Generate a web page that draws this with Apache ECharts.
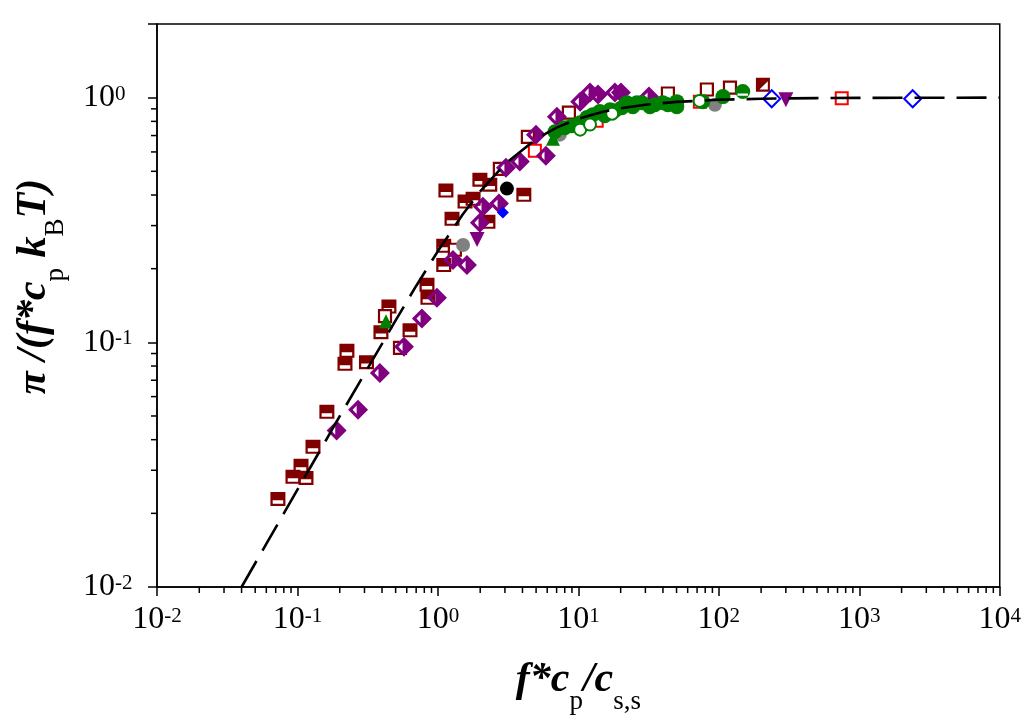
<!DOCTYPE html>
<html><head><meta charset="utf-8">
<script src="https://cdn.jsdelivr.net/npm/echarts@6/dist/echarts.min.js"></script>
<style>html,body{margin:0;padding:0;background:#fff}#c{width:1024px;height:724px}</style>
</head><body><div id="c"></div>
<script>
// ---- data ----
const xMin = 0.01, xMax = 10000, yMin = 0.01, yMax = 2;
const tickMantissas = [2,3,4,5,6,7,8,9];
const xDecades = [0.01,0.1,1,10,100,1000];
const yDecades = [0.01,0.1];

const halfSquares = [[0.0726,0.0229],[0.0929,0.0282],[0.106,0.0313],[0.115,0.0279],[0.129,0.0374],[0.162,0.052],[0.218,0.0817],[0.225,0.0923],[0.31,0.083],[0.393,0.110],[0.448,0.140],[0.633,0.112],[0.836,0.172],[0.849,0.152],[1.10,0.248],[1.10,0.207],[1.14,0.417],[1.26,0.320],[1.56,0.376],[1.78,0.386],[1.99,0.462],[2.34,0.441],[2.27,0.311],[4.09,0.401]];
const openSquares = [[0.420,0.128],[0.537,0.095],[1.32,0.239],[2.76,0.512],[4.37,0.692],[8.56,0.868],[43.4,1.04],[82.2,1.08],[120,1.10]];
const redSquares = [[4.90,0.607],[13.5,0.805],[73.3,0.963],[750,0.995]];
const diagSquares = [[206,1.13]];
const purpleDiamonds = [[0.190,0.0436],[0.270,0.053],[0.386,0.075],[0.573,0.0959],[0.769,0.125],[0.984,0.152],[1.28,0.217],[1.61,0.207],[1.99,0.308],[2.09,0.358],[2.72,0.369],[3.05,0.517],[3.83,0.548],[4.99,0.706],[5.87,0.579],[7.03,0.836],[10.3,0.963],[12.1,1.05],[13.8,1.03],[18.2,1.05],[20.1,1.05],[31.8,1.01]];
const purpleTriangles = [[1.90,0.263],[300,0.981]];
const blueDiamonds = [[2.90,0.339]];
const blueOpenDiamonds = [[238,0.99],[2400,0.99]];
const grayCircles = [[1.51,0.250],[7.38,0.706],[93.7,0.936]];
const blackCircles = [[3.10,0.425]];
const greenTriangles = [[0.427,0.122],[6.59,0.680]];
const greenCircles = [[6.81,0.726],[8.01,0.754],[8.99,0.768],[10.3,0.790],[11.5,0.829],[12.7,0.852],[14.2,0.877],[15.4,0.844],[16.8,0.893],[18.2,0.885],[20.4,0.910],[22.1,0.954],[24.4,0.919],[26.1,0.954],[28.3,0.954],[32.3,0.919],[35.0,0.936],[39.9,0.954],[43.4,0.936],[50.2,0.963],[50.2,0.919],[76.9,0.963],[107,1.01]];
const greenOpenCircles = [[10.3,0.740],[12.1,0.776],[17.4,0.86],[73,0.97]];
const greenHalfCircles = [[148,1.06]];
const curveX = [0.04,0.06,0.1,0.15,0.2,0.3,0.5,0.7,1,1.5,2,3,5,7,10,15,20,30,50,100,200,500,1000,10000];
const curveY = [0.0100,0.0150,0.0250,0.0374,0.0499,0.0743,0.123,0.170,0.236,0.333,0.414,0.535,0.677,0.754,0.820,0.876,0.905,0.936,0.961,0.980,0.990,0.996,0.998,1.000];

// ---- styles ----
const MAROON = '#800000', PURPLE = '#800080', GREEN = '#008000';
const FONT = 'Liberation Serif';
const halfSquarePath = 'path://M0,0L10,0L10,10L0,10Z M1.5,6L1.5,8.5L8.5,8.5L8.5,6Z';
const halfDiamondPath = 'path://M5,0L10,5L5,10L0,5Z M4.3,2.9L2.3,5L4.3,7.1Z';
const diagSquarePath = 'path://M0,0L10,0L10,10L0,10Z M8.5,2.5L2.5,8.5L8.5,8.5Z';
const halfCirclePath = 'path://M0,5A5,5,0,1,1,10,5A5,5,0,1,1,0,5Z M1.5,6.3L1.5,7.8L8.5,7.8L8.5,6.3Z';

const xMinor = [], yMinor = [];
xDecades.forEach(d => tickMantissas.forEach(m => xMinor.push([+(m*d).toPrecision(3), yMin])));
yDecades.forEach(d => tickMantissas.forEach(m => yMinor.push([xMin, +(m*d).toPrecision(3)])));

function expLabel(v){
  const l = Math.log10(v), e = Math.round(l);
  if (Math.abs(l - e) > 1e-6) return '';
  return '{b|10}{s|' + e + '}';
}
const labelRich = {
  b: {fontFamily: FONT, fontSize: 32, lineHeight: 32, color: '#000', verticalAlign: 'bottom'},
  s: {fontFamily: FONT, fontSize: 21, lineHeight: 21, color: '#000', verticalAlign: 'bottom', padding: [0,0,9,0]}
};
const nameRich = {
  bi: {fontFamily: FONT, fontSize: 42, fontWeight: 'bold', fontStyle: 'italic', color: '#000', lineHeight: 42, verticalAlign: 'bottom', padding: [0,0,14,0]},
  sub: {fontFamily: FONT, fontSize: 27, color: '#000', lineHeight: 27, verticalAlign: 'bottom'}
};

function scatter(data, symbol, size, itemStyle, extra){
  return Object.assign({type: 'scatter', data: data, symbol: symbol, symbolSize: size,
    itemStyle: Object.assign({opacity: 1}, itemStyle), z: 3}, extra || {});
}
function tickSeries(data, vertical){
  return {
    type: 'custom', data: data, clip: false, silent: true, z: 4,
    encode: {x: 0, y: 1},
    renderItem: function(params, api){
      const p = api.coord([api.value(0), api.value(1)]);
      const shape = vertical ? {x1: p[0], y1: p[1], x2: p[0], y2: p[1] + 6}
                             : {x1: p[0], y1: p[1], x2: p[0] - 6, y2: p[1]};
      return {type: 'line', shape: shape, style: {stroke: '#000', lineWidth: 1.5}};
    }
  };
}

const chart = echarts.init(document.getElementById('c'), null, {renderer: 'canvas'});
chart.setOption({
  animation: false,
  backgroundColor: '#fff',
  grid: {left: 157, right: 24, top: 24, bottom: 137, show: true, borderColor: '#000', borderWidth: 1.5},
  xAxis: {
    type: 'log', logBase: 10, min: xMin, max: xMax,
    axisLine: {lineStyle: {color: '#000', width: 1.5}},
    axisTick: {inside: false, length: 9, lineStyle: {color: '#000', width: 1.5}},
    splitLine: {show: false},
    axisLabel: {formatter: expLabel, rich: labelRich, margin: 17},
    name: '{bi|f*c}{sub|p}{bi|/c}{sub|s,s}',
    nameLocation: 'middle', nameGap: 86,
    nameTextStyle: {rich: nameRich}
  },
  yAxis: {
    type: 'log', logBase: 10, min: yMin, max: yMax,
    axisLine: {lineStyle: {color: '#000', width: 1.5}},
    axisTick: {inside: false, length: 9, lineStyle: {color: '#000', width: 1.5}},
    splitLine: {show: false},
    axisLabel: {formatter: expLabel, rich: labelRich, margin: 74, align: 'left'},
    name: '{bi|π /(f*c}{sub|p}{bi| k}{sub|B}{bi|T)}',
    nameLocation: 'middle', nameGap: 88, nameRotate: 90,
    nameTextStyle: {rich: nameRich, padding: [0,0,0,38]}
  },
  series: [
    tickSeries(xMinor, true),
    tickSeries(yMinor, false),
    scatter(halfSquares, halfSquarePath, [15,14], {color: MAROON}),
    scatter(openSquares, 'rect', 12, {color: '#fff', borderColor: MAROON, borderWidth: 2.2}),
    scatter(redSquares, 'rect', 12, {color: '#fff', borderColor: '#ff0000', borderWidth: 2}),
    scatter(diagSquares, diagSquarePath, 14, {color: MAROON}),
    scatter(purpleDiamonds, halfDiamondPath, 20, {color: PURPLE}),
    scatter(purpleTriangles, 'triangle', 15, {color: PURPLE}, {symbolRotate: 180}),
    scatter(blueDiamonds, 'diamond', 12, {color: '#0000ff'}),
    scatter(blueOpenDiamonds, 'diamond', 17, {color: '#fff', borderColor: '#0000ff', borderWidth: 2}),
    scatter(grayCircles, 'circle', 14, {color: '#808080'}),
    scatter(blackCircles, 'circle', 14, {color: '#000'}),
    scatter(greenTriangles, 'triangle', 14, {color: GREEN}),
    scatter(greenCircles, 'circle', 15, {color: GREEN}),
    scatter(greenOpenCircles, 'circle', 12, {color: '#fff', borderColor: GREEN, borderWidth: 2}),
    scatter(greenHalfCircles, halfCirclePath, 15, {color: GREEN}),
    {
      type: 'line', data: curveX.map((x, i) => [x, curveY[i]]), symbol: 'none', z: 5,
      lineStyle: {color: '#000', width: 2.6, type: [30, 12]}
    }
  ]
});
</script>
</body></html>
